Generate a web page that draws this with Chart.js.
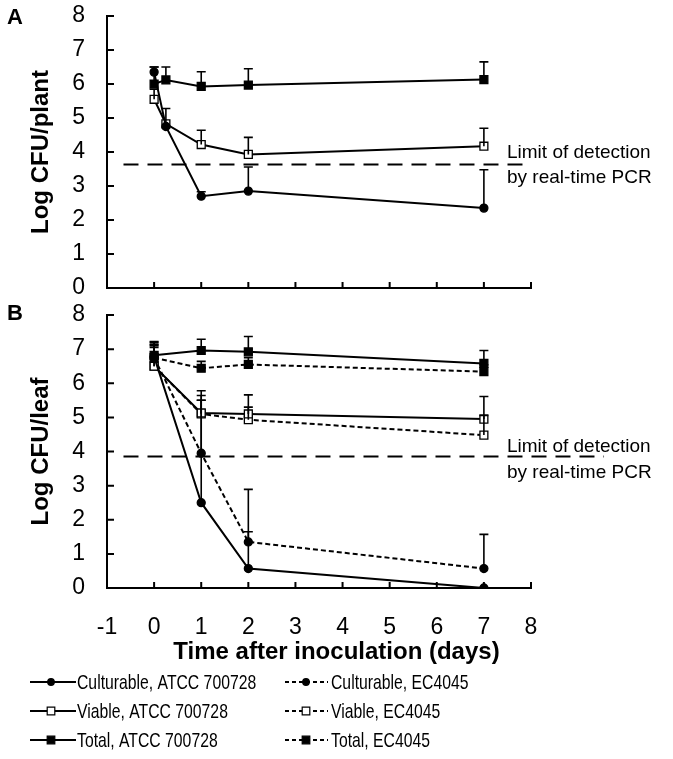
<!DOCTYPE html>
<html>
<head>
<meta charset="utf-8">
<script src="https://cdn.jsdelivr.net/npm/chart.js@4.4.0/dist/chart.umd.min.js"></script>
<style>
  html, body { margin: 0; padding: 0; background: #fff; }
  #wrapA { position: absolute; left: 0; top: 0; width: 673px; height: 302px; }
  #wrapB { position: absolute; left: 0; top: 300px; width: 673px; height: 459px; }
</style>
</head>
<body>
<div id="wrapA"><canvas id="chartA"></canvas></div>
<div id="wrapB"><canvas id="chartB"></canvas></div>
<script>
// panel A - per plant (ATCC 700728 only)
var daysA = [0, 0.25, 1, 2, 7];
var culturableA    = [6.35, 4.75, 2.7, 2.85, 2.35];
var culturableAErr = [0.15, 0, 0.13, 0.71, 1.13];
var viableA        = [5.55, 4.83, 4.22, 3.93, 4.17];
var viableAErr     = [0.3, 0.45, 0.42, 0.5, 0.53];
var totalA         = [6.0, 6.12, 5.93, 5.97, 6.13];
var totalAErr      = [0.5, 0.38, 0.43, 0.48, 0.52];
var limitA = 3.63;

// panel B - per leaf
var daysB = [0, 1, 2, 7];
var culturableAtccB    = [6.78, 2.5, 0.57, 0];
var culturableAtccBErr = [0.35, 3.14, 1.08, 0];
var viableAtccB        = [6.5, 5.13, 5.1, 4.95];
var viableAtccBErr     = [0.7, 0.65, 0.56, 0.66];
var totalAtccB         = [6.82, 6.96, 6.92, 6.58];
var totalAtccBErr      = [0.4, 0.33, 0.45, 0.38];
var culturableEcB      = [6.75, 3.95, 1.35, 0.57];
var culturableEcBErr   = [0.4, 1.55, 1.54, 1.0];
var viableEcB          = [6.5, 5.1, 4.93, 4.48];
var viableEcBErr       = [0.6, 0.4, 0.37, 0.58];
var totalEcB           = [6.75, 6.44, 6.55, 6.34];
var totalEcBErr        = [0.3, 0.2, 0.2, 0.2];
var limitB = 3.85;

var xMin = -1, xMax = 8;
var yMin = 0, yMax = 8;
var limitText = ['Limit of detection', 'by real-time PCR'];
var xTitle = 'Time after inoculation (days)';

var FONT = "'Liberation Sans', Arial, sans-serif";

function series(label, xs, ys, errs, shape, filled, dashed) {
    return {
        label: label,
        data: xs.map(function(x, i){ return {x: x, y: ys[i]}; }),
        errs: errs,
        dashed: dashed,
        borderColor: '#000',
        borderWidth: 2,
        borderDash: dashed ? [5, 3] : [],
        pointStyle: shape,
        pointRadius: shape === 'rect' ? 5.6 : 4,
        pointBackgroundColor: filled ? '#000' : '#fff',
        pointBorderColor: '#000',
        pointBorderWidth: 1.3,
        tension: 0
    };
}

function limitLine(y, xEnd) {
    return {
        label: 'limit',
        data: [{x: -0.65, y: y}, {x: xEnd, y: y}],
        borderColor: '#000',
        borderWidth: 2,
        borderDash: [15, 9],
        pointRadius: 0,
        clip: false
    };
}

// tick marks drawn inward, error bars, limit text, panel letter
var decorPlugin = {
    id: 'decor',
    afterDatasetsDraw: function(chart) {
        var ctx = chart.ctx;
        var ys = chart.scales.y;
        ctx.save();
        ctx.strokeStyle = '#000';
        ctx.lineWidth = 1.6;
        ctx.setLineDash([]);
        chart.data.datasets.forEach(function(ds, di) {
            if (!ds.errs) return;
            var meta = chart.getDatasetMeta(di);
            meta.data.forEach(function(pt, i) {
                var e = ds.errs[i];
                if (!e) return;
                var top = ys.getPixelForValue(ds.data[i].y + e);
                ctx.beginPath();
                ctx.moveTo(pt.x, pt.y);
                ctx.lineTo(pt.x, top);
                ctx.moveTo(pt.x - 4.5, top);
                ctx.lineTo(pt.x + 4.5, top);
                ctx.stroke();
            });
        });
        ctx.restore();
    },
    afterDraw: function(chart) {
        var ctx = chart.ctx;
        var a = chart.chartArea;
        var xs = chart.scales.x, ys = chart.scales.y;
        var o = chart.options.plugins.decor;
        ctx.save();
        ctx.strokeStyle = '#000';
        ctx.lineWidth = 2;
        ctx.beginPath();
        xs.ticks.forEach(function(t) {
            var px = xs.getPixelForValue(t.value);
            ctx.moveTo(px, a.bottom);
            ctx.lineTo(px, a.bottom - 6);
        });
        ys.ticks.forEach(function(t) {
            var py = ys.getPixelForValue(t.value);
            ctx.moveTo(a.left, py);
            ctx.lineTo(a.left + 7, py);
        });
        ctx.stroke();

        // limit of detection label
        var ly = ys.getPixelForValue(o.limit);
        ctx.fillStyle = '#000';
        ctx.font = '19px ' + FONT;
        ctx.textAlign = 'left';
        ctx.textBaseline = 'middle';
        ctx.fillText(limitText[0], a.right - 24, ly + o.textDy[0]);
        ctx.fillText(limitText[1], a.right - 24, ly + o.textDy[1]);

        // x axis title, centred on the whole figure
        if (o.xTitle) {
            ctx.font = 'bold 24px ' + FONT;
            ctx.textAlign = 'center';
            ctx.fillText(o.xTitle, chart.width / 2, a.bottom + 64);
        }

        // panel letter
        ctx.font = 'bold 22px ' + FONT;
        ctx.textAlign = 'left';
        ctx.textBaseline = 'alphabetic';
        ctx.fillText(o.letter, 7, o.letterY);
        ctx.restore();
    }
};

// legend for the bottom panel, two columns of three
var legendPlugin = {
    id: 'legendB',
    afterDraw: function(chart) {
        if (!chart.options.plugins.legendB) return;
        var ctx = chart.ctx;
        var rowsY = [382, 411, 440];
        var cols = [{x0: 30, x1: 76, mx: 51, tx: 77}, {x0: 285, x1: 328, mx: 306, tx: 331}];
        var items = chart.data.datasets.filter(function(d){ return d.errs; });
        ctx.save();
        items.forEach(function(ds, idx) {
            var c = cols[Math.floor(idx / 3)];
            var y = rowsY[idx % 3];
            ctx.strokeStyle = '#000';
            ctx.lineWidth = 2;
            ctx.setLineDash(ds.dashed ? [4, 3] : []);
            ctx.beginPath();
            ctx.moveTo(c.x0, y);
            ctx.lineTo(c.x1, y);
            ctx.stroke();
            ctx.setLineDash([]);
            ctx.lineWidth = 1.2;
            ctx.fillStyle = ds.pointBackgroundColor;
            ctx.beginPath();
            if (ds.pointStyle === 'rect') {
                ctx.rect(c.mx - 3.8, y - 3.8, 7.6, 7.6);
            } else {
                ctx.arc(c.mx, y, 3.3, 0, Math.PI * 2);
            }
            ctx.fill();
            ctx.stroke();
            ctx.fillStyle = '#000';
            ctx.font = '21px ' + FONT;
            ctx.textAlign = 'left';
            ctx.textBaseline = 'middle';
            ctx.save();
            ctx.translate(c.tx, y);
            ctx.scale(0.75, 1);
            ctx.fillText(ds.label, 0, 1);
            ctx.restore();
        });
        ctx.restore();
    }
};

function makeOptions(yTitle, showX, letter, letterY, limit, textDy, withLegend) {
    return {
        responsive: true,
        maintainAspectRatio: false,
        animation: false,
        layout: {
            padding: { left: 0, right: 142, top: showX ? 15 : 16, bottom: showX ? 89 : 0 }
        },
        plugins: {
            legend: { display: false },
            tooltip: { enabled: false },
            decor: { letter: letter, letterY: letterY, limit: limit, textDy: textDy, xTitle: showX ? xTitle : null },
            legendB: withLegend
        },
        scales: {
            x: {
                type: 'linear',
                min: xMin, max: xMax,
                grid: { display: false },
                border: { display: true, color: '#000', width: 2 },
                ticks: {
                    display: showX,
                    stepSize: 1,
                    color: '#000',
                    font: { size: 23, family: FONT },
                    padding: 18,
                    maxRotation: 0,
                    autoSkip: false
                },
                afterFit: function(s) { s.height = showX ? 82 : 14; }
            },
            y: {
                min: yMin, max: yMax,
                // invisible outer tick marks only push the labels away from the axis
                grid: { display: true, drawOnChartArea: false, drawTicks: true, tickLength: 22, tickColor: 'rgba(0,0,0,0)' },
                border: { display: true, color: '#000', width: 2 },
                ticks: {
                    stepSize: 1,
                    color: '#000',
                    font: { size: 23, family: FONT },
                    padding: 0
                },
                title: {
                    display: true,
                    text: yTitle,
                    color: '#000',
                    font: { size: 24, weight: 'bold', family: FONT },
                    padding: { top: 27, bottom: 0 }
                },
                afterFit: function(s) { s.width = 107; }
            }
        }
    };
}

var chartA = new Chart(document.getElementById('chartA').getContext('2d'), {
    type: 'line',
    data: {
        datasets: [
            limitLine(limitA, 8),
            series('Culturable, ATCC 700728', daysA, culturableA, culturableAErr, 'circle', true, false),
            series('Viable, ATCC 700728', daysA, viableA, viableAErr, 'rect', false, false),
            series('Total, ATCC 700728', daysA, totalA, totalAErr, 'rect', true, false)
        ]
    },
    options: makeOptions('Log CFU/plant', false, 'A', 24, limitA, [-12, 13], false),
    plugins: [decorPlugin]
});

var chartB = new Chart(document.getElementById('chartB').getContext('2d'), {
    type: 'line',
    data: {
        datasets: [
            limitLine(limitB, 9.55),
            series('Culturable, ATCC 700728', daysB, culturableAtccB, culturableAtccBErr, 'circle', true, false),
            series('Viable, ATCC 700728', daysB, viableAtccB, viableAtccBErr, 'rect', false, false),
            series('Total, ATCC 700728', daysB, totalAtccB, totalAtccBErr, 'rect', true, false),
            series('Culturable, EC4045', daysB, culturableEcB, culturableEcBErr, 'circle', true, true),
            series('Viable, EC4045', daysB, viableEcB, viableEcBErr, 'rect', false, true),
            series('Total, EC4045', daysB, totalEcB, totalEcBErr, 'rect', true, true)
        ]
    },
    options: makeOptions('Log CFU/leaf', true, 'B', 20, limitB, [-10, 16], true),
    plugins: [decorPlugin, legendPlugin]
});
</script>
</body>
</html>
